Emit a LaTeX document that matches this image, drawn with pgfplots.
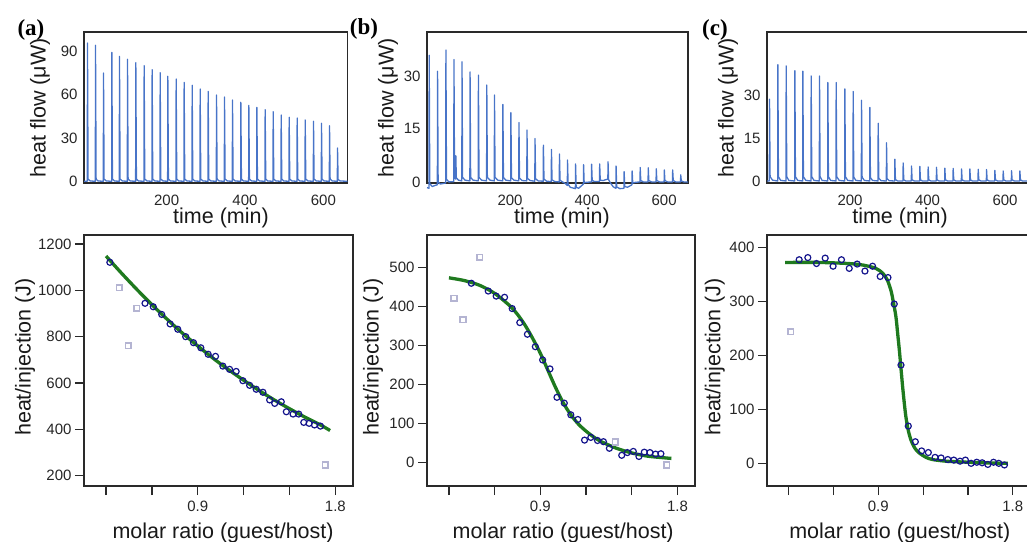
\documentclass[border=0pt]{standalone}
\usepackage{fontspec}
\setmainfont{Liberation Sans}
\newfontfamily\panelfont{Liberation Serif}
\usepackage{pgfplots}
\pgfplotsset{compat=1.18}

\definecolor{tracecol}{HTML}{4874C8}
\definecolor{fitgreen}{HTML}{1F7A1F}
\definecolor{ptblue}{HTML}{14148C}
\definecolor{ptgray}{HTML}{B4B4D2}
\definecolor{framecol}{HTML}{2A2A2A}

\pgfplotsset{
  panel/.style={scale only axis, anchor=north west,
    axis line style={draw=framecol, line width=1.2pt},
    /pgf/number format/assume math mode=true,
    /pgf/number format/1000 sep={},
    scaled ticks=false,
    tick label style={font=\fontsize{15}{18}\selectfont, text=black!85},
    label style={font=\fontsize{21.5}{26}\selectfont, text=black!90},
    xtick pos=bottom, ytick pos=left,
    xlabel style={anchor=base},
    ylabel style={anchor=center},
  },
  topax/.style={panel, height=151pt, major tick length=0pt,
    xtick={200,400,600},
    xticklabel style={anchor=base, yshift=-22pt},
    yticklabel style={anchor=east, xshift=-3pt},
    xlabel={time (min)},
    ylabel={heat flow (μW)},
  },
  botax/.style={panel, height=251pt, tick align=outside, major tick length=9pt,
    tick style={draw=framecol, line width=1.2pt},
    xmin=0.156, xmax=1.915,
    xtick={0.3,0.6,0.9,1.2,1.5,1.8}, xticklabels={,,0.9,,,1.8},
    xticklabel style={anchor=base, yshift=-16pt},
    xlabel={molar ratio (guest/host)},
    ylabel={heat/injection (J)},
  },
  thermo/.style={color=tracecol, line width=1.3pt, line join=round, mark=none},
  fit/.style={color=fitgreen, line width=3.3pt, smooth, mark=none},
  used/.style={only marks, mark=o, mark size=3pt, draw=ptblue, line width=1.2pt},
  dropped/.style={only marks, mark=square, mark size=2.8pt, draw=ptgray, line width=1.6pt},
}

\begin{document}
\begin{tikzpicture}
\useasboundingbox (0,0) rectangle (1027pt,-541pt);
\clip (0,0) rectangle (1027pt,-541pt);

% ---------- top row: raw heat flow ----------
\begin{axis}[topax, at={(84pt,-32pt)}, width=263.5pt,
  xmin=-11, xmax=661.7, ymin=-1.2, ymax=103.4, ytick={0,30,60,90},
  xlabel style={at={(axis description cs:0.52,-0.265)}},
  ylabel style={at={(axis description cs:-0.167,0.497)}}]
\addplot[thermo] coordinates {
(-11,0)
(-2.6,0)(-2.1,95.8)(-0.6,1.5)(5,0.2)
(17.9,0)(18.4,94.2)(19.9,1.5)(25,0.2)
(38.3,0)(38.8,75)(40.3,1.5)(46,0.2)
(59.6,0)(60.1,89.3)(61.6,1.5)(67,0.2)
(79.1,0)(79.6,86.5)(81.1,1.5)(87,0.2)
(99.6,0)(100.1,84.5)(101.6,1.5)(107,0.2)
(120.8,0)(121.3,82.2)(122.8,1.5)(128,0.2)
(142.1,0)(142.6,80.1)(144.1,1.5)(150,0.2)
(162.5,0)(163,77.3)(164.5,1.5)(170,0.2)
(183,0)(183.5,75.2)(185,1.5)(191,0.2)
(202.5,0)(203,72.7)(204.5,1.5)(210,0.2)
(223.8,0)(224.3,70.8)(225.8,1.5)(231,0.2)
(244.2,0)(244.7,68.5)(246.2,1.5)(252,0.2)
(264.7,0)(265.2,66.5)(266.7,1.5)(272,0.2)
(285.1,0)(285.6,63.9)(287.1,1.5)(293,0.2)
(305.5,0)(306,62.3)(307.5,1.5)(313,0.2)
(326.8,0)(327.3,59.8)(328.8,1.5)(334,0.2)
(347.2,0)(347.7,58.4)(349.2,1.5)(355,0.2)
(367.6,0)(368.1,56.3)(369.6,1.5)(375,0.2)
(388.9,0)(389.4,54.7)(390.9,1.5)(396,0.2)
(409.3,0)(409.8,52.6)(411.3,1.5)(417,0.2)
(429.8,0)(430.3,51.2)(431.8,1.5)(437,0.2)
(451,0)(451.5,49.6)(453,1.5)(458,0.2)
(471.5,0)(472,48.2)(473.5,1.5)(479,0.2)
(491.9,0)(492.4,45.9)(493.9,1.5)(499,0.2)
(512.3,0)(512.8,44.3)(514.3,1.5)(520,0.2)
(532.7,0)(533.2,43.8)(534.7,1.5)(540,0.2)
(553.2,0)(553.7,42.5)(555.2,1.5)(561,0.2)
(574.4,0)(574.9,41.5)(576.4,1.5)(582,0.2)
(594.8,0)(595.3,40.2)(596.8,1.5)(602,0.2)
(615.3,0)(615.8,38.5)(617.3,1.5)(623,0.2)
(635.7,0)(636.2,23.1)(637.7,1.2)(643,0.2)
(661.7,0)
};
\end{axis}

\begin{axis}[topax, at={(427pt,-32pt)}, width=261pt, clip=false,
  xmin=-15.6, xmax=662, ymin=-0.3, ymax=42.4, ytick={0,15,30},
  xlabel style={at={(axis description cs:0.517,-0.265)}},
  ylabel style={at={(axis description cs:-0.149,0.497)}}]
\addplot[thermo] coordinates {
(-15.6,-1.6)
(-10.4,-1.8)(-9.9,35.8)(-8.4,-0.5)(-2,-1.3)
(5,-1.0)
(11.3,-0.8)(11.8,31.3)(13.3,0)(19,-0.6)
(33,-0.3)(33.5,37.3)(35,0.8)(41,0)
(53.9,0.1)(54.4,34.6)(55.9,1.2)
(59,0.8)(59.3,7.4)(60.5,1.2)(66,0.5)
(74.8,0.3)(75.3,34)(76.8,1.3)(83,0.5)
(95.7,0.3)(96.2,31.1)(97.7,1.3)(104,0.5)
(117.4,0.3)(117.9,30.2)(119.4,1.3)(126,0.5)
(139.1,0.3)(139.6,27.4)(141.1,1.3)(148,0.5)
(159.1,0.3)(159.6,24.6)(161.1,1.3)(168,0.5)
(180.9,0.3)(181.4,21.9)(182.9,1.3)(189,0.5)
(201.7,0.3)(202.2,19.6)(203.7,1.2)(210,0.5)
(222.6,0.3)(223.1,16.8)(224.6,1.1)(231,0.4)
(243.5,0.3)(244,14.7)(245.5,1.0)(252,0.4)
(264.3,0.2)(264.8,12.3)(266.3,0.9)(273,0.3)
(286.1,0.2)(286.6,10.4)(288.1,0.8)(295,0.2)
(307,0.1)(307.5,9.2)(309,0.6)(316,0.1)
(327.8,0)(328.3,7.9)(329.8,0.5)(336,0)
(342,-0.3)
(348.7,-1.0)(349.2,6.2)(350.7,-0.6)(356,-1.5)
(369.6,-1.9)(370.1,5.1)(371.6,-1.5)(378,-1.8)
(390.4,-0.6)(390.9,4.9)(392.4,-0.2)(398,-0.1)
(411.3,0)(411.8,5)(413.3,0.4)(420,0.1)
(432.2,0.1)(432.7,5.1)(434.2,0.5)(442,0.4)
(450,0.7)
(453.9,0.8)(454.4,5.7)(455.9,0.6)(462,-0.5)
(468,-1.4)
(474.8,-1.8)(475.3,4.5)(476.8,-1.4)(485,-1.9)
(495.7,-1.8)(496.2,2.9)(497.7,-1.3)(505,-1.5)
(516.5,-0.8)(517,3.1)(518.5,-0.3)(526,-0.1)
(537.4,0)(537.9,4.1)(539.4,0.4)(546,0)
(558.3,0)(558.8,4)(560.3,0.4)(567,0)
(579.1,0)(579.6,3.7)(581.1,0.4)(588,0)
(600,0)(600.5,3.4)(602,0.4)(609,0)
(621.7,0)(622.2,3.4)(623.7,0.4)(630,0)
(642.6,0)(643.1,2)(644.6,0.3)(651,0)
(662,0)
};
\end{axis}

\begin{axis}[topax, at={(767pt,-32pt)}, width=263pt,
  xmin=-14.2, xmax=664.5, ymin=-0.7, ymax=51.9, ytick={0,15,30},
  xlabel style={at={(axis description cs:0.506,-0.265)}},
  ylabel style={at={(axis description cs:-0.148,0.497)}}]
\addplot[thermo] coordinates {
(-14.2,0)
(-8.2,0)(-7.7,28.5)(-6.2,1.5)(0,0.3)
(13.3,0)(13.8,40.5)(15.3,1.5)(21,0.2)
(34.8,0)(35.3,40.1)(36.8,1.5)(42,0.2)
(57.2,0)(57.7,38.4)(59.2,1.5)(65,0.2)
(77.8,0)(78.3,38.3)(79.8,1.5)(86,0.2)
(99.3,0)(99.8,36.6)(101.3,1.5)(107,0.2)
(120.8,0)(121.3,36.6)(122.8,1.5)(128,0.2)
(142.3,0)(142.8,34.3)(144.3,1.5)(150,0.2)
(163.8,0)(164.3,34.3)(165.8,1.5)(172,0.2)
(186.2,0)(186.7,32.1)(188.2,1.5)(194,0.2)
(207.7,0)(208.2,31.2)(209.7,1.4)(215,0.2)
(229.2,0)(229.7,28.1)(231.2,1.3)(237,0.2)
(250.7,0)(251.2,25.6)(252.7,1.2)(258,0.2)
(272.2,0)(272.7,20.1)(274.2,1)(280,0.1)
(293.7,0)(294.2,13.3)(295.7,0.8)(301,0.1)
(315.2,0)(315.7,7.6)(317.2,0.5)(323,0)
(336.7,0)(337.2,6.3)(338.7,0.4)(344,0)
(358.2,0)(358.7,5.2)(360.2,0.4)(366,0)
(379.7,0)(380.2,5.1)(381.7,0.4)(387,0)
(401.2,0)(401.7,4.9)(403.2,0.4)(409,0)
(422.7,0)(423.2,4.8)(424.7,0.4)(430,0)
(444.2,0)(444.7,4.5)(446.2,0.4)(452,0)
(465.7,0)(466.2,4.4)(467.7,0.4)(473,0)
(487.3,0)(487.8,4.2)(489.3,0.4)(495,0)
(508.8,0)(509.3,4.2)(510.8,0.4)(516,0)
(530.3,0)(530.8,4.1)(532.3,0.4)(538,0)
(551.8,0)(552.3,4)(553.8,0.4)(559,0)
(573.3,0)(573.8,3.7)(575.3,0.4)(581,0)
(594.8,0)(595.3,3.5)(596.8,0.4)(602,0)
(616.3,0)(616.8,3.6)(618.3,0.4)(624,0)
(637.8,0)(638.3,3.5)(639.8,0.4)(645,0)
(664.5,0)
};
\end{axis}

% ---------- bottom row: integrated heats ----------
\begin{axis}[botax, at={(84pt,-235pt)}, width=269pt,
  ymin=155.5, ymax=1238.8, ytick={200,400,600,800,1000,1200},
  xlabel style={at={(axis description cs:0.517,-0.211)}},
  ylabel style={at={(axis description cs:-0.219,0.514)}}]
\addplot[fit] coordinates {
(0.30,1148)(0.40,1075)(0.50,1005)(0.60,938)(0.70,875)(0.80,815)(0.90,760)
(1.00,707)(1.10,658)(1.20,612)(1.30,568)(1.40,527)(1.50,489)(1.60,453)
(1.70,420)(1.765,395)};
\addplot[dropped] coordinates {(0.387,1012)(0.446,761)(0.500,922)(1.735,246)};
\addplot[used] coordinates {
(0.325,1121)(0.555,944)(0.609,929)(0.664,896)(0.719,855)(0.769,832)(0.821,800)
(0.872,774)(0.920,752)(0.968,724)(1.016,715)(1.064,673)(1.108,659)(1.151,650)
(1.195,610)(1.239,590)(1.282,573)(1.326,560)(1.370,527)(1.403,512)(1.446,519)
(1.479,476)(1.523,466)(1.560,466)(1.593,430)(1.628,426)(1.663,419)(1.702,414)};
\end{axis}

\begin{axis}[botax, at={(427pt,-235pt)}, width=268pt,
  ymin=-60.9, ymax=584, ytick={0,100,200,300,400,500},
  xlabel style={at={(axis description cs:0.508,-0.211)}},
  ylabel style={at={(axis description cs:-0.2015,0.514)}}]
\addplot[fit] coordinates {
(0.3,474)(0.4,467)(0.5,455)(0.6,434)(0.7,402)(0.75,380)(0.8,352)(0.85,318)
(0.9,280)(0.95,236)(1.0,192)(1.05,153)(1.1,122)(1.15,98)(1.2,80)(1.25,65)
(1.3,53)(1.4,36)(1.5,24)(1.6,16)(1.7,12)(1.76,10)};
\addplot[dropped] coordinates {(0.333,421)(0.392,366)(0.503,527)(1.392,52)(1.728,-7)};
\addplot[used] coordinates {
(0.447,460)(0.558,440)(0.610,427)(0.665,424)(0.715,395)(0.765,359)(0.815,329)
(0.867,297)(0.915,263)(0.963,240)(1.009,167)(1.057,152)(1.100,122)(1.146,110)
(1.190,57)(1.231,64)(1.275,56)(1.314,53)(1.353,36)(1.434,18)(1.471,25)
(1.510,28)(1.547,15)(1.582,26)(1.619,25)(1.656,21)(1.691,22)};
\end{axis}

\begin{axis}[botax, at={(767pt,-235pt)}, width=263pt,
  ymin=-42, ymax=422.8, ytick={0,100,200,300,400},
  xlabel style={at={(axis description cs:0.505,-0.211)}},
  ylabel style={at={(axis description cs:-0.198,0.514)}}]
\addplot[fit] coordinates {
(0.277,372)(0.5,372)(0.7,370)(0.8,367)(0.884,361)(0.93,352)(0.96,340)(0.985,320)
(1.0,300)(1.018,272)(1.03,240)(1.041,210)(1.052,176)(1.063,142)(1.074,112)
(1.085,86)(1.1,62)(1.119,43)(1.145,28)(1.175,19)(1.22,11)(1.264,7)(1.35,4)
(1.42,3)(1.6,1)(1.767,0)};
\addplot[dropped] coordinates {(0.315,244)};
\addplot[used] coordinates {
(0.371,377)(0.429,381)(0.487,370)(0.545,380)(0.598,365)(0.654,377)(0.706,361)
(0.759,369)(0.811,356)(0.862,365)(0.913,346)(0.965,344)(1.007,295)(1.052,182)
(1.101,69)(1.148,40)(1.190,23)(1.235,20)(1.280,11)(1.320,10)(1.365,7)(1.405,6)
(1.447,4)(1.483,6)(1.521,0)(1.559,2)(1.595,1)(1.633,-2)(1.671,2)(1.706,0)(1.744,-3)};
\end{axis}

% panel letters
\node[font=\panelfont\bfseries\fontsize{23}{27}\selectfont] at (31pt,-30pt) {(a)};
\node[font=\panelfont\bfseries\fontsize{23}{27}\selectfont] at (364pt,-29pt) {(b)};
\node[font=\panelfont\bfseries\fontsize{23}{27}\selectfont] at (715pt,-30pt) {(c)};
\end{tikzpicture}
\end{document}
